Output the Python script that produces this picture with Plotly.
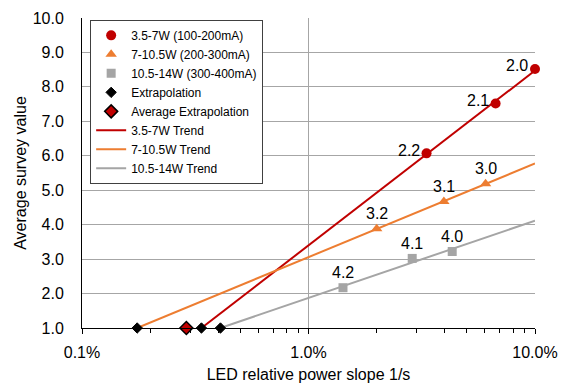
import numpy as np
import plotly.graph_objects as go

# ---- data (x in % of relative power slope, y = average survey value) ----
red_x = [3.32, 6.70, 10.0]
red_y = [6.07, 7.52, 8.52]
red_lbl = ["2.2", "2.1", "2.0"]

orange_x = [2.00, 3.96, 6.05]
orange_y = [3.88, 4.67, 5.19]
orange_lbl = ["3.2", "3.1", "3.0"]

gray_x = [1.42, 2.87, 4.31]
gray_y = [2.17, 3.02, 3.22]
gray_lbl = ["4.2", "4.1", "4.0"]

series_names = ["3.5-7W (100-200mA)", "7-10.5W (200-300mA)", "10.5-14W (300-400mA)"]
trend_names = ["3.5-7W Trend", "7-10.5W Trend", "10.5-14W Trend"]
x_tickvals = [0.1, 1.0, 10.0]
x_ticktext = ["0.1%", "1.0%", "10.0%"]
x_minor = [0.2, 0.3, 0.4, 0.5, 0.6, 0.7, 0.8, 0.9, 2, 3, 4, 5, 6, 7, 8, 9]
y_base = 1.0
x_end = 10.0

RED = "#C00000"
ORANGE = "#ED7D31"
GRAY = "#A5A5A5"
FONT = "Liberation Sans, Arial, sans-serif"

series = [
    (red_x, red_y, red_lbl, RED, "circle", 10, "left"),
    (orange_x, orange_y, orange_lbl, ORANGE, "triangle-up", 10, "center"),
    (gray_x, gray_y, gray_lbl, GRAY, "square", 9, "center"),
]

fig = go.Figure()
ext_x = []
# trend lines: y = a + b*log10(x), extended down to y = 1 (extrapolation) and up to 10%
for i, (xs, ys, lbl, col, sym, sz, pos) in enumerate(series):
    b, a = np.polyfit(np.log10(xs), ys, 1)
    xe = 10 ** ((y_base - a) / b)
    ext_x.append(xe)
    lx = np.array([xe, x_end])
    ly = a + b * np.log10(lx)
    fig.add_trace(go.Scatter(x=lx, y=ly, mode="lines", name=trend_names[i],
                             line=dict(color=col, width=2), legendrank=10 + i,
                             hoverinfo="skip"))

for i, (xs, ys, lbl, col, sym, sz, pos) in enumerate(series):
    fig.add_trace(go.Scatter(x=xs, y=ys, mode="markers", name=series_names[i],
                             marker=dict(color=col, symbol=sym, size=sz),
                             legendrank=1 + i, cliponaxis=False))
    for xv, yv, t in zip(xs, ys, lbl):
        if pos == "left":
            fig.add_annotation(x=np.log10(xv), y=yv, text=t, showarrow=False,
                               xanchor="right", yanchor="middle", xshift=-5, yshift=3,
                               font=dict(size=16, color="#000000", family=FONT))
        else:
            fig.add_annotation(x=np.log10(xv), y=yv, text=t, showarrow=False,
                               xanchor="center", yanchor="middle", yshift=15,
                               font=dict(size=16, color="#000000", family=FONT))

avg_ext = 10 ** np.mean(np.log10(ext_x))

fig.add_trace(go.Scatter(x=ext_x, y=[y_base] * len(ext_x), mode="markers",
                         name="Extrapolation", legendrank=4,
                         marker=dict(color="#000000", symbol="diamond", size=8,
                                     line=dict(color="#000000", width=1)),
                         cliponaxis=False))
fig.add_trace(go.Scatter(x=[avg_ext], y=[y_base], mode="markers",
                         name="Average Extrapolation", legendrank=5,
                         marker=dict(color=RED, symbol="diamond", size=10,
                                     line=dict(color="#000000", width=1.5)),
                         cliponaxis=False))

fig.update_layout(
    width=578, height=392,
    margin=dict(l=82, r=43, t=18, b=64),
    paper_bgcolor="white", plot_bgcolor="white",
    font=dict(family=FONT, size=16, color="#000000"),
    showlegend=True,
    legend=dict(x=0.018, y=0.994, xanchor="left", yanchor="top",
                bgcolor="white", bordercolor="#404040", borderwidth=1,
                font=dict(size=12, family=FONT, color="#000000"),
                tracegroupgap=0, itemwidth=30),
    xaxis=dict(type="log", range=[-1, 1], tickmode="array",
               tickvals=x_tickvals, ticktext=x_ticktext,
               showgrid=True, gridcolor="#A6A6A6", gridwidth=1,
               showline=True, linecolor="#000000", linewidth=1,
               ticks="outside", ticklen=5, tickcolor="#000000",
               ticklabelstandoff=5, automargin=False,
               minor=dict(tickmode="array", tickvals=x_minor, ticks="outside",
                          ticklen=4, tickcolor="#000000", showgrid=False),
               title=dict(text="LED relative power slope 1/s", standoff=8,
                          font=dict(size=16)),
               zeroline=False),
    yaxis=dict(range=[1, 10], tickmode="linear", tick0=1, dtick=1,
               tickformat=".1f", automargin=False,
               showgrid=True, gridcolor="#A6A6A6", gridwidth=1,
               showline=True, linecolor="#000000", linewidth=1,
               ticks="", ticklabelstandoff=14,
               title=dict(text="Average survey value", standoff=2,
                          font=dict(size=16)),
               zeroline=False),
)

fig.write_html("out.html", config={"displayModeBar": False},
               post_script="document.body.style.margin='0';document.body.style.overflow='hidden';")
